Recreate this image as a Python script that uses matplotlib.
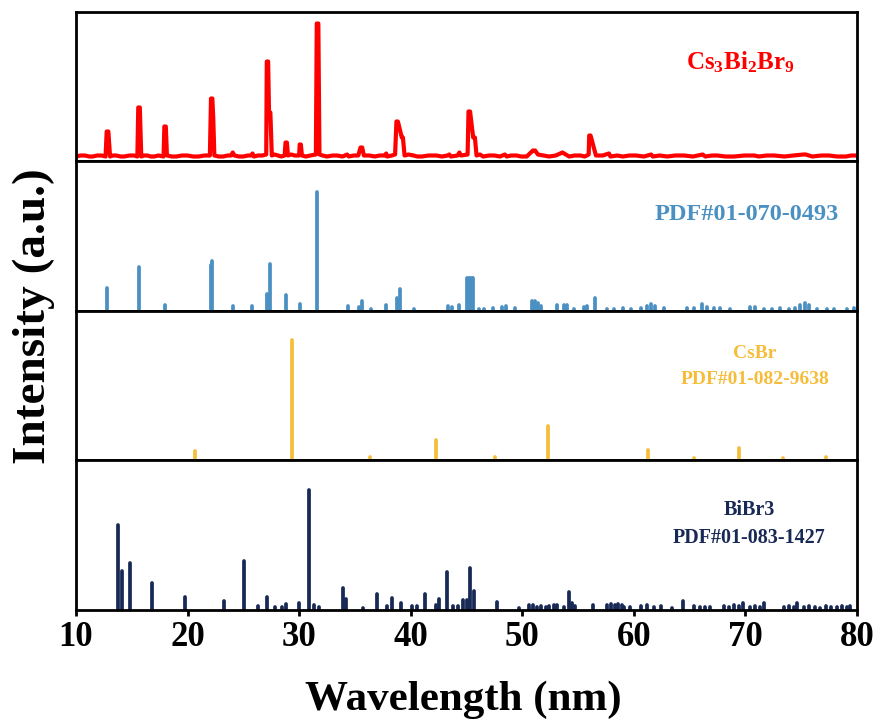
import matplotlib
matplotlib.use('Agg')
import matplotlib.pyplot as plt

plt.rcParams['font.family'] = ['Liberation Serif', 'DejaVu Serif']
plt.rcParams['font.weight'] = 'bold'
plt.rcParams['mathtext.fontset'] = 'custom'
plt.rcParams['mathtext.rm'] = 'Liberation Serif:bold'
plt.rcParams['mathtext.bf'] = 'Liberation Serif:bold'
plt.rcParams['mathtext.it'] = 'Liberation Serif:bold'

# ---------------- data ----------------
# measured Cs3Bi2Br9 pattern (vertex list read from the picture)
red_x = [10.0, 10.4, 10.8, 11.2, 11.5, 11.9, 12.3, 12.65, 12.75, 12.9, 13.05, 13.3, 13.6, 14.0, 14.3, 14.8,
         15.2, 15.5, 15.58, 15.72, 15.85, 16.1, 16.4, 16.7, 17.0, 17.4, 17.85, 17.92, 18.05, 18.15, 18.6,
         19.0, 19.5, 20.0, 20.5, 21.0, 21.5, 22.0, 22.1, 22.22, 22.3, 22.4, 22.8, 23.2, 23.6,
         23.9, 24.05, 24.2, 24.6, 25.0, 25.4, 25.7, 25.82, 25.95, 26.3, 26.7, 27.05, 27.1, 27.22, 27.3,
         27.42, 27.55, 27.8, 28.1, 28.4, 28.7, 28.78, 28.9, 29.0, 29.3, 29.6, 30.0, 30.05, 30.15, 30.25,
         30.6, 31.0, 31.5, 31.58, 31.72, 31.82, 32.1, 32.5, 33.0, 33.4, 33.9, 34.3, 34.45, 34.9, 35.3,
         35.5, 35.65, 35.8, 36.3, 36.8, 37.2, 37.7, 37.8, 37.9, 38.3, 38.6, 38.72, 38.85, 39.2,
         39.3, 39.45, 39.8, 40.25, 40.6, 41.0, 41.6, 42.3, 42.8, 43.3, 43.46, 43.6, 44.2, 44.36, 44.5,
         45.1, 45.18, 45.32, 45.6, 45.75, 45.9, 46.2, 46.5, 47.0, 47.5, 48.0, 48.44, 48.6, 49.0, 49.48,
         49.9, 50.4, 50.95, 51.15, 51.4, 51.9, 52.4, 53.0, 53.6, 53.75, 54.2, 54.7, 55.2, 55.6, 55.95,
         56.0, 56.12, 56.45, 56.6, 57.2, 57.77, 57.9, 58.5, 59.0, 59.6, 60.2, 60.9, 61.55, 61.7, 62.3,
         63.0, 63.7, 64.5, 65.3, 66.17, 66.4, 67.0, 67.5, 68.2, 69.0, 69.9, 70.79, 71.2, 71.9, 72.58,
         73.5, 74.3, 75.2, 75.4, 76.0, 76.8, 77.5, 78.2, 79.0, 79.5, 80.0]
red_y = [1, 2, 2, 1, 1, 2, 2, 1, 26, 26, 1, 2, 2, 1, 1, 2,
         2, 1, 50, 50, 1, 2, 2, 1, 1, 2, 1, 31, 31, 2, 1,
         1, 2, 2, 1, 1, 2, 2, 59, 59, 40, 2, 1, 1, 2,
         2, 5, 2, 1, 1, 2, 2, 4, 1, 2, 2, 3, 96, 96, 45,
         45, 2, 3, 2, 1, 2, 15, 15, 2, 3, 2, 2, 13, 13, 2,
         1, 2, 3, 134, 134, 3, 2, 1, 2, 2, 1, 3, 1, 2, 2,
         10, 10, 2, 2, 1, 2, 2, 4, 1, 2, 3, 36, 36, 20,
         20, 2, 3, 2, 1, 1, 2, 2, 1, 2, 3, 1, 2, 5, 2,
         3, 46, 46, 20, 20, 2, 3, 1, 2, 2, 1, 3, 1, 2, 2,
         1, 1, 7, 7, 3, 2, 1, 2, 5, 4, 1, 2, 2, 1, 3,
         22, 22, 8, 2, 2, 4, 1, 2, 1, 2, 2, 1, 3, 1, 2,
         1, 2, 2, 1, 3, 1, 2, 2, 1, 1, 2, 2, 1, 2, 2,
         1, 2, 3, 3, 1, 2, 2, 1, 1, 2, 2]

# PDF#01-070-0493 (Cs3Bi2Br9 reference)
blue_pos = [12.8, 15.63, 17.99, 22.1, 22.22, 24.06, 25.79, 27.13, 27.37, 28.8, 30.05, 31.63, 34.35, 35.33,
            35.6, 36.43, 37.8, 38.75, 39.05, 40.25, 43.37, 43.7, 44.33, 45.05, 45.2, 45.35, 45.5, 45.62,
            46.1, 46.6, 47.4, 48.18, 48.5, 49.37, 50.87, 51.1, 51.37, 51.68, 53.1, 53.7, 54.0, 54.6,
            55.5, 55.8, 56.55, 57.6, 58.2, 59.06, 59.7, 60.6, 61.2, 61.5, 61.9, 62.7, 64.77, 65.37, 66.1,
            66.56, 67.16, 67.76, 68.65, 70.45, 70.9, 71.64, 72.4, 73.1, 73.88, 74.48, 74.93, 75.38, 75.68,
            76.43, 77.33, 77.9, 79.12, 79.7]
blue_int = [23, 44, 6, 46, 50, 5, 5, 17, 47, 16, 7, 119, 5, 4,
            10, 2, 6, 13, 22, 2, 5, 4, 6, 33, 33, 33, 33, 33,
            2, 2, 3, 4, 5, 3, 10, 10, 8, 5, 6, 6, 6, 2,
            4, 5, 13, 2, 2, 3, 2, 3, 5, 7, 5, 3, 3, 3, 7,
            4, 3, 3, 2, 4, 4, 2, 2, 3, 2, 3, 6, 8, 6,
            2, 2, 2, 2, 3]

# CsBr PDF#01-082-9638
yellow_pos = [20.69, 29.35, 36.37, 42.24, 47.51, 52.33, 61.27, 65.43, 69.42, 73.37, 77.26]
yellow_int = [9, 120, 3, 20, 3, 34, 10, 2, 12, 2, 3]

# BiBr3 PDF#01-083-1427
navy_pos = [13.78, 14.08, 14.83, 16.85, 19.77, 23.29, 25.02, 26.3, 27.16, 27.82, 28.47, 28.83, 29.97, 30.89,
            31.33, 31.81, 33.93, 34.2, 35.68, 36.97, 37.86, 38.31, 39.14, 40.15, 40.54, 41.29, 42.27,
            42.57, 43.26, 43.82, 44.2, 44.71, 45.0, 45.31, 45.67, 47.7, 49.67, 50.57, 51.0, 51.3, 51.7,
            52.1, 52.4, 52.8, 53.1, 53.7, 54.15, 54.45, 54.75, 56.34, 57.6, 57.95, 58.3, 58.6, 58.94,
            59.09, 59.69, 60.6, 61.2, 61.8, 62.4, 63.43, 64.38, 65.37, 65.9, 66.4, 66.86, 68.05, 68.5,
            69.0, 69.4, 69.75, 70.45, 70.9, 71.35, 71.68, 73.44, 73.9, 74.33, 74.66, 75.23, 75.7, 76.2,
            76.7, 77.2, 77.7, 78.2, 78.7, 79.1, 79.4]
navy_int = [85, 39, 47, 27, 13, 9, 49, 4, 13, 3, 3, 6, 7, 120,
            5, 3, 22, 11, 2, 16, 4, 12, 7, 4, 4, 16, 5,
            11, 38, 4, 4, 10, 10, 42, 19, 8, 2, 5, 5, 3, 4,
            3, 4, 5, 5, 3, 18, 7, 4, 5, 5, 6, 5, 6, 5,
            3, 3, 4, 5, 3, 4, 2, 9, 4, 3, 3, 3, 4, 3,
            5, 4, 7, 3, 4, 3, 7, 3, 4, 3, 7, 3, 4, 3,
            2, 4, 3, 3, 4, 3, 4]

xticks = [10, 20, 30, 40, 50, 60, 70, 80]

RED = '#FF0000'
BLUE = '#4A90C2'
YELLOW = '#F6BD3A'
NAVY = '#172954'

# ---------------- figure ----------------
W, H = 881, 722
fig = plt.figure(figsize=(W / 100, H / 100), dpi=100)
left_px, right_px = 76, 857
edges = [12, 161, 311, 460, 610]
axes = []
for i in range(4):
    t, b = edges[i], edges[i + 1]
    ax = fig.add_axes([left_px / W, 1 - b / H, (right_px - left_px) / W, (b - t) / H])
    axes.append(ax)

ax_r, ax_b, ax_y, ax_n = axes

ax_r.plot(red_x, red_y, color=RED, lw=3.0, solid_joinstyle='round', solid_capstyle='round')
ax_r.set_ylim(-3.5, 145.5)

ax_b.vlines(blue_pos, 0, blue_int, color=BLUE, lw=2.7, capstyle='round')
ax_b.set_ylim(0, 150)

ax_y.vlines(yellow_pos, 0, yellow_int, color=YELLOW, lw=2.7, capstyle='round')
ax_y.set_ylim(0, 149)

ax_n.vlines(navy_pos, 0, navy_int, color=NAVY, lw=2.7, capstyle='round')
ax_n.set_ylim(0, 150)

for ax in axes:
    ax.set_xlim(10, 80)
    ax.set_yticks([])
    for s in ax.spines.values():
        s.set_linewidth(2.0)
    ax.tick_params(axis='x', bottom=False, labelbottom=False)

ax_n.set_xticks(xticks)
ax_n.set_xticklabels([str(v) for v in xticks])
ax_n.tick_params(axis='x', bottom=True, labelbottom=True, direction='out', length=4,
                 width=2.0, labelsize=25, pad=4)
for lab in ax_n.get_xticklabels():
    lab.set_fontweight('bold')


def fx(px):
    return px / W


def fy(py):
    return 1 - py / H


fig.text(fx(740), fy(62), r'$\mathbf{Cs_3Bi_2Br_9}$', color=RED, fontsize=18,
         ha='center', va='center')
fig.text(fx(747), fy(215), 'PDF#01-070-0493', color=BLUE, fontsize=17.5, fontweight='bold',
         ha='center', va='center')
fig.text(fx(755), fy(353), 'CsBr', color=YELLOW, fontsize=14, fontweight='bold',
         ha='center', va='center')
fig.text(fx(755), fy(379), 'PDF#01-082-9638', color=YELLOW, fontsize=14, fontweight='bold',
         ha='center', va='center')
fig.text(fx(749), fy(510), 'BiBr3', color=NAVY, fontsize=14.5, fontweight='bold',
         ha='center', va='center')
fig.text(fx(749), fy(538), 'PDF#01-083-1427', color=NAVY, fontsize=14.5, fontweight='bold',
         ha='center', va='center')

fig.text(fx(34), fy(316), 'Intensity (a.u.)', rotation=90, fontsize=34, fontweight='bold',
         ha='center', va='center')
fig.text(fx(463), fy(710), 'Wavelength (nm)', fontsize=31, fontweight='bold',
         ha='center', va='baseline')

fig.savefig('out.png', dpi=100)
